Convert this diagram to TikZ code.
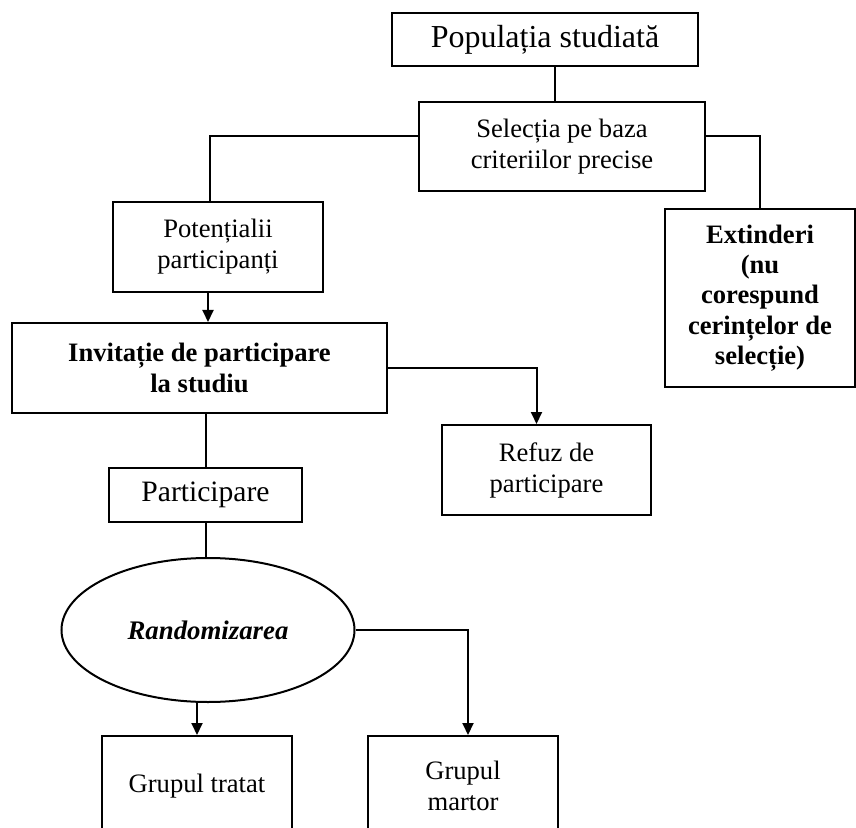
\documentclass[tikz,border=0pt]{standalone}
\usepackage{fontspec}
\setmainfont{Liberation Serif}
\usetikzlibrary{positioning,calc,arrows.meta,shapes.geometric}

\begin{document}
\begin{tikzpicture}[x=0.5pt, y=-0.5pt]
	\useasboundingbox (0,0) rectangle (856,828);
	\clip (0,0) rectangle (856,828);
	\begin{scope}[line width=1pt]
		\tikzstyle{every node}=[align=center, inner sep=1pt, font=\fontsize{13.3}{15.5}\selectfont]
		\tikzstyle{box}=[draw, rectangle]
		\tikzstyle{arr}=[-{Triangle[length=6pt, width=5.5pt]}]

		\node[box, minimum width=153pt, minimum height=26.5pt, font=\fontsize{16}{19}\selectfont] (pop) at (545, 39.5) {Populația studiată};
		\node[box, minimum width=143pt, minimum height=44.5pt] (sel) at (562, 146.5) {Selecția pe baza\\criteriilor precise};

		\node[box, minimum width=105pt, minimum height=45pt] (pot) at (218, 247) {Potențialii\\participanți};
		\node[box, minimum width=95pt, minimum height=89pt, font=\fontsize{13.3}{15.2}\selectfont\bfseries] (ext) at (760, 298) {Extinderi\\(nu\\corespund\\cerințelor de\\selecție)};

		\node[box, minimum width=187.5pt, minimum height=45pt, font=\fontsize{13.3}{15.5}\selectfont\bfseries] (inv) at (199.5, 368) {Invitație de participare\\la studiu};
		\node[box, minimum width=104.5pt, minimum height=45pt] (ref) at (546.5, 470) {Refuz de\\participare};

		\node[box, minimum width=96.5pt, minimum height=27pt, font=\fontsize{14.8}{17}\selectfont] (par) at (205.5, 495) {Participare};
		\node[draw, ellipse, minimum width=146.5pt, minimum height=72pt, font=\fontsize{13.4}{16}\selectfont\bfseries\itshape] (rnd) at (208, 630) {Randomizarea};

		\node[box, minimum width=95pt, minimum height=50pt] (grt) at (197, 786) {Grupul tratat};
		\node[box, minimum width=95pt, minimum height=50pt] (grm) at (463, 786) {Grupul\\martor};

		\draw ([xshift=5pt]pop.south) -- ([xshift=5pt]pop.south |- sel.north);
		\draw ([yshift=5pt]sel.west) -| ([xshift=-4pt]pot.north);
		\draw ([yshift=5pt]sel.east) -| (ext.north);

		\draw [arr] ([xshift=-5pt]pot.south) -- ([xshift=-5pt]pot.south |- inv.north);
		\draw [arr] (inv.east) -| ([xshift=-5pt]ref.north);
		\draw (par.north |- inv.south) -- (par.north);

		\draw (par.south) -- (par.south |- rnd.north);
		\draw [arr] (rnd.east) -| ([xshift=2.5pt]grm.north);
		\draw [arr] (grt.north |- rnd.south) -- (grt.north);
	\end{scope}
\end{tikzpicture}
\end{document}
